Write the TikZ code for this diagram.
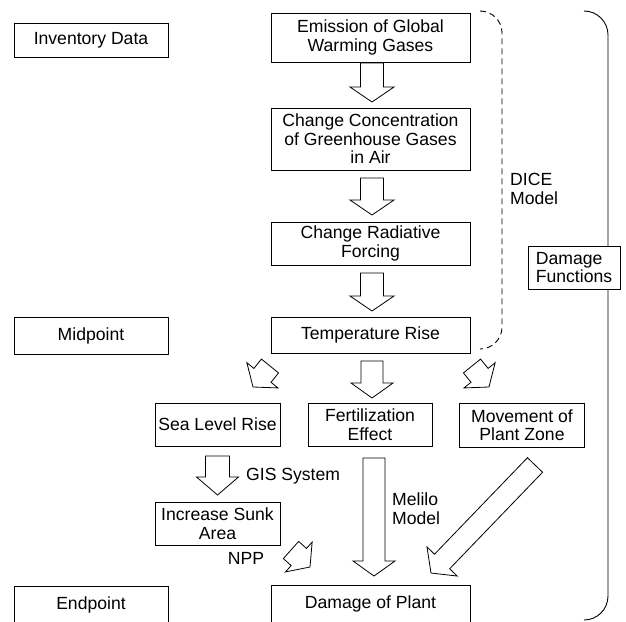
\documentclass[tikz,border=0pt]{standalone}
\usepackage{fontspec}
\setmainfont{Liberation Sans}
\usetikzlibrary{calc}
\tikzset{
  box/.style={draw, line width=0.8pt, fill=white, inner sep=0pt, align=center},
  lbl/.style={inner sep=0pt, align=left},
  barrowline/.style={draw, line width=0.8pt, fill=white, line join=miter},
  dashbracket/.style={line width=0.9pt, dash pattern=on 6pt off 4pt},
  solidbracket/.style={line width=0.9pt}
}
% block arrow: #1 tail, #2 tip, #3 head length, #4 shaft half width, #5 head half width
\newcommand\blockarr[5]{%
  \coordinate (bt) at (#1);
  \coordinate (bh) at (#2);
  \coordinate (bb) at ($(bh)!#3!(bt)$);
  \path[barrowline] ($(bt)!#4!90:(bh)$) -- ($(bb)!#4!-90:(bt)$) -- ($(bb)!#5!-90:(bt)$)
     -- (bh) -- ($(bb)!#5!90:(bt)$) -- ($(bb)!#4!90:(bt)$) -- ($(bt)!#4!-90:(bh)$) -- cycle;
}
\begin{document}
\begin{tikzpicture}[x=1pt,y=-1pt, every node/.style={font=\fontsize{17.6}{18.5}\selectfont}]
\useasboundingbox (0,0) rectangle (626,621);

% brackets
\coordinate (dtop) at (480,11);
\coordinate (dbot) at (480,349);
\draw[dashbracket, rounded corners=22pt] (dtop) -- (502,11) -- (502,349) -- (dbot);
\coordinate (btop) at (584,11);
\coordinate (bbot) at (584,620);
\draw[solidbracket, rounded corners=24pt] (btop) -- (608,11) -- (608,620) -- (bbot);

% left column
\node[box, minimum width=154pt, minimum height=34pt] (inv) at (91,40) {Inventory Data};
\node[box, minimum width=154pt, minimum height=37pt] (mid) at (91,335.5) {Midpoint};
\node[box, minimum width=154pt, minimum height=37pt] (endp) at (91,604.5) {Endpoint};

% main column
\node[box, minimum width=199pt, minimum height=49pt] (emis) at (370.5,37.5) {Emission of Global\\Warming Gases};
\node[box, minimum width=199pt, minimum height=62pt] (conc) at (370.5,139) {Change Concentration\\of Greenhouse Gases\\in Air};
\node[box, minimum width=199pt, minimum height=43pt] (rad) at (370.5,243.5) {Change Radiative\\Forcing};
\node[box, minimum width=199pt, minimum height=36pt] (temp) at (370.5,335) {Temperature Rise};

\node[box, minimum width=125pt, minimum height=43pt] (sea) at (217.5,424.5) {Sea Level Rise};
\node[box, minimum width=124pt, minimum height=43pt] (fert) at (370,424.5) {Fertilization\\Effect};
\node[box, minimum width=125pt, minimum height=44pt] (move) at (522,425) {Movement of\\Plant Zone};
\node[box, minimum width=125pt, minimum height=43pt] (sunk) at (217.5,523.5) {Increase Sunk\\Area};
\node[box, minimum width=199pt, minimum height=37pt] (plant) at (370.5,604) {Damage of Plant};

\node[box, minimum width=92pt, minimum height=43pt, align=left] (dmgf) at (574,267.5) {Damage\\Functions};

% labels
\node[lbl, anchor=west] (dice) at (510,189) {DICE\\Model};
\node[lbl, anchor=west] (gis) at (246,476) {GIS System};
\node[lbl, anchor=west] (melilo) at (392,508.5) {Melilo\\Model};
\node[lbl] (npp) at (246,558) {NPP};

% block arrows
\blockarr{372,63}{372,102}{15pt}{11.5pt}{22pt}
\blockarr{372,178}{372,215}{15pt}{11.5pt}{22pt}
\blockarr{372,273}{372,311}{15pt}{11.5pt}{22pt}
\blockarr{372,361}{372,398}{15pt}{11pt}{21pt}
\blockarr{472,366}{489,387}{15pt}{11pt}{20pt}
\blockarr{270,366}{253,387}{15pt}{11pt}{20pt}
\blockarr{217.5,456}{217.5,495}{18pt}{12pt}{21pt}
\blockarr{374,458}{374,576}{15pt}{11pt}{21pt}
\blockarr{535,465}{431,573}{16pt}{10.5pt}{21pt}
\blockarr{291,550}{310,567}{15pt}{11.5pt}{20pt}
\end{tikzpicture}
\end{document}
